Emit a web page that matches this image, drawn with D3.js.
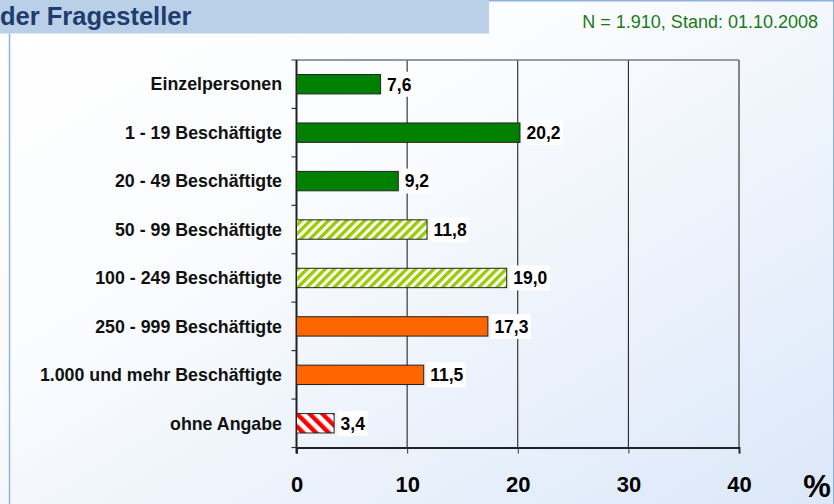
<!DOCTYPE html>
<meta charset="utf-8">

<head>
  <script src="https://d3js.org/d3.v7.min.js"></script>
  <style>
    body { margin: 0; }
    svg { display: block; font-family: "Liberation Sans", Arial, sans-serif; }
  </style>
</head>

<body>
  <svg id="root"></svg>

  <script>
    // Data
    const categories = ["Einzelpersonen", "1 - 19 Beschäftigte", "20 - 49 Beschäftigte",
      "50 - 99 Beschäftigte", "100 - 249 Beschäftigte", "250 - 999 Beschäftigte",
      "1.000 und mehr Beschäftigte", "ohne Angabe"];
    const values = [7.6, 20.2, 9.2, 11.8, 19.0, 17.3, 11.5, 3.4];
    const groups = ["klein", "klein", "klein", "mittel", "mittel", "gross", "gross", "keine"];
    const xTicks = [0, 10, 20, 30, 40];
    const title = "der Fragesteller";
    const note = "N = 1.910, Stand: 01.10.2008";

    const W = 834, H = 504;
    const margin = { top: 60, right: 95, bottom: 56.5, left: 296.5 },
      width = W - margin.left - margin.right,
      height = H - margin.top - margin.bottom;

    const root = d3.select("#root").attr("width", W).attr("height", H);
    const defs = root.append("defs");

    // background gradient
    const grad = defs.append("linearGradient").attr("id", "bg")
      .attr("x1", 0).attr("y1", 0).attr("x2", 1).attr("y2", 1);
    grad.append("stop").attr("offset", "0%").attr("stop-color", "#ffffff");
    grad.append("stop").attr("offset", "35%").attr("stop-color", "#fbfcfe");
    grad.append("stop").attr("offset", "100%").attr("stop-color", "#dbe8f9");
    root.append("rect").attr("width", W).attr("height", H).attr("fill", "url(#bg)");

    // hatch patterns
    function hatch(id, color, size, sw, dir) {
      const p = defs.append("pattern").attr("id", id)
        .attr("patternUnits", "userSpaceOnUse")
        .attr("width", size).attr("height", size)
        .attr("patternTransform", "rotate(" + dir + ")");
      p.append("rect").attr("width", size).attr("height", size).attr("fill", "#fff");
      p.append("rect").attr("width", sw).attr("height", size).attr("fill", color);
    }
    hatch("hGreen", "#99cc00", 6.4, 3.4, 45);
    hatch("hRed", "#ff0000", 9, 4.4, -45);

    const fillScale = d3.scaleOrdinal()
      .domain(["klein", "mittel", "gross", "keine"])
      .range(["#008000", "url(#hGreen)", "#ff6600", "url(#hRed)"]);

    // header band and frame
    root.append("rect").attr("x", 0).attr("y", 0).attr("width", 489).attr("height", 33.5)
      .attr("fill", "#b9d0e8");
    root.append("line").attr("x1", 489).attr("x2", W).attr("y1", 0.75).attr("y2", 0.75)
      .attr("stroke", "#8fb2dc").attr("stroke-width", 1.5);
    root.append("line").attr("x1", W - 0.5).attr("x2", W - 0.5).attr("y1", 0).attr("y2", H)
      .attr("stroke", "#8fb2dc").attr("stroke-width", 1);
    root.append("line").attr("x1", 9.5).attr("x2", 9.5).attr("y1", 33.5).attr("y2", H)
      .attr("stroke", "#8fb4e3").attr("stroke-width", 1.5);

    root.append("text").attr("x", 0).attr("y", 25)
      .attr("font-size", 25.5).attr("font-weight", "bold").attr("fill", "#1f3c6e")
      .text(title);
    root.append("text").attr("x", 818).attr("y", 27.5).attr("text-anchor", "end")
      .attr("font-size", 18).attr("fill", "#1a7a1a")
      .text(note);

    const svg = root.append("g")
      .attr("transform", "translate(" + margin.left + "," + margin.top + ")");

    const xScale = d3.scaleLinear([0, 40], [0, width]);
    const yScale = d3.scaleBand(categories, [0, height]).paddingInner(0.6).paddingOuter(0.3);
    const band = d3.scaleBand(categories, [0, height]);

    // grid lines
    svg.append("g").selectAll("line").data(xTicks.slice(1)).join("line")
      .attr("x1", d => xScale(d)).attr("x2", d => xScale(d))
      .attr("y1", 0).attr("y2", height)
      .attr("stroke", "#111").attr("stroke-width", 1);
    svg.append("line").attr("x1", -5).attr("x2", width).attr("y1", 0).attr("y2", 0)
      .attr("stroke", "#7a7a7a").attr("stroke-width", 1.5);

    // x axis
    const xAxis = svg.append("g").attr("transform", `translate(0,${height})`)
      .call(d3.axisBottom(xScale).tickValues(xTicks).tickSize(6).tickPadding(23));
    xAxis.select(".domain").attr("stroke", "#222").attr("stroke-width", 2);
    xAxis.selectAll(".tick line").attr("stroke", "#333");
    xAxis.selectAll("text").attr("font-size", 22).attr("font-weight", "bold")
      .attr("fill", "#000").attr("font-family", "'Liberation Sans', Arial, sans-serif");

    root.append("text").attr("x", 817).attr("y", 497).attr("text-anchor", "middle")
      .attr("font-size", 31).attr("font-weight", "bold").text("%");

    // y axis with ticks at band boundaries
    const yAxisG = svg.append("g");
    yAxisG.append("line").attr("x1", 0).attr("x2", 0).attr("y1", 0).attr("y2", height + 6)
      .attr("stroke", "#222").attr("stroke-width", 2);
    yAxisG.selectAll(".yt").data(categories).join("line")
      .attr("class", "yt")
      .attr("x1", -5).attr("x2", 0)
      .attr("y1", d => band(d) + band.bandwidth())
      .attr("y2", d => band(d) + band.bandwidth())
      .attr("stroke", "#333").attr("stroke-width", 1.2);
    yAxisG.selectAll(".ylab").data(categories).join("text")
      .attr("class", "ylab")
      .attr("x", -14.5)
      .attr("y", d => band(d) + band.bandwidth() / 2)
      .attr("dy", "0.35em")
      .attr("text-anchor", "end")
      .attr("font-size", 17.8).attr("font-weight", "bold").attr("fill", "#111")
      .text(d => d);

    // bars
    svg.append("g").selectAll("rect").data(values).join("rect")
      .attr("x", 0)
      .attr("y", (d, i) => yScale(categories[i]))
      .attr("width", d => xScale(d))
      .attr("height", yScale.bandwidth())
      .attr("fill", (d, i) => fillScale(groups[i]))
      .attr("stroke", "#222").attr("stroke-width", 1);

    // value labels
    const fmt = d => d.toFixed(1).replace(".", ",");
    const lab = svg.append("g").selectAll("g").data(values).join("g")
      .attr("transform", (d, i) => `translate(${xScale(d) + 3},${band(categories[i]) + band.bandwidth() / 2})`);
    const labBox = lab.append("rect").attr("x", 0).attr("y", -12.5).attr("height", 25).attr("fill", "#fff");
    const labText = lab.append("text").attr("x", 3.5).attr("dy", "0.36em")
      .attr("font-size", 17.5).attr("font-weight", "bold").attr("fill", "#000")
      .text(fmt);
    labBox.attr("width", (d, i) => labText.nodes()[i].getComputedTextLength() + 6);
  </script>
</body>
